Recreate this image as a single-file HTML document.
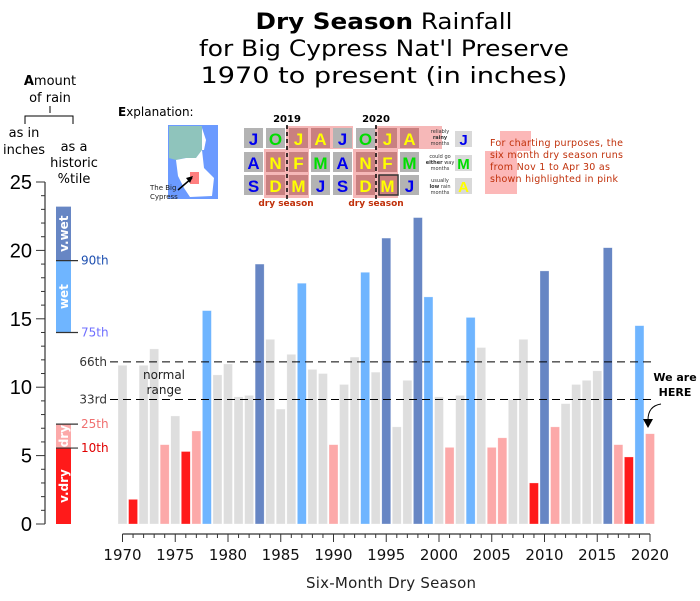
<!DOCTYPE html>
<html><head><meta charset="utf-8">
<style>
html,body{margin:0;padding:0;background:#fff;}
body{width:700px;height:601px;overflow:hidden;position:relative;font-family:"DejaVu Sans","Liberation Sans",sans-serif;}
svg{position:absolute;left:0;top:0;}
</style></head>
<body>
<svg id="chart" width="700" height="601" viewBox="0 0 700 601">
  <g font-size="22" text-anchor="middle" fill="#000">
    <text x="384" y="29" textLength="257" lengthAdjust="spacingAndGlyphs"><tspan font-weight="bold">Dry Season</tspan> Rainfall</text>
    <text x="384" y="56" textLength="370" lengthAdjust="spacingAndGlyphs">for Big Cypress Nat'l Preserve</text>
    <text x="384" y="83" textLength="367" lengthAdjust="spacingAndGlyphs">1970 to present (in inches)</text>
  </g>
  <g font-size="13" text-anchor="middle" fill="#000">
    <text x="50" y="85"><tspan font-weight="bold">A</tspan>mount</text>
    <text x="50" y="102">of rain</text>
    <path d="M50 106 V113 M25 124 V116 H73 V124" stroke="#000" fill="none"/>
    <text x="24" y="137">as in</text>
    <text x="24" y="154">inches</text>
    <text x="74" y="151">as a</text>
    <text x="74" y="167">historic</text>
    <text x="74" y="183">%tile</text>
  </g>
  <g id="explanation">
    <text x="118" y="116" font-size="12"><tspan font-weight="bold">E</tspan>xplanation:</text>
    <g>
      <rect x="168" y="125" width="50" height="74" fill="#6b9aff"/>
      <path d="M169 126 H202 V150 L196 158 H185 L176 160 L169 158 Z" fill="#8fc4bc"/>
      <path d="M176 160 L186 158 L196 158 L202 150 L204 168 L214 178 L212 196 L190 197 L184 188 L178 176 Z" fill="#fff"/>
      <path d="M202 128 L206 140 L204 150 L202 150 Z" fill="#fff"/>
      <rect x="190" y="172" width="9" height="12" fill="#ff7f7f"/>
      <path d="M178 190 L192 178" stroke="#000" stroke-width="1.5"/>
      <path d="M193 176 L186 178 L190 183 Z" fill="#000"/>
      <text x="150" y="190" font-size="7" fill="#222">The Big</text>
      <text x="150" y="199" font-size="7" fill="#222">Cypress</text>
    </g>
    <g font-family="Liberation Sans, sans-serif" font-weight="bold" font-size="17" text-anchor="middle">
      <rect x="286" y="126" width="67" height="23" fill="#f6b8b8"/>
      <rect x="264" y="149" width="45" height="49" fill="#f6b8b8"/>
      <rect x="286" y="149" width="23" height="49" fill="#f6b8b8"/>
      <rect x="375" y="126" width="67" height="23" fill="#f6b8b8"/>
      <rect x="353" y="149" width="45" height="49" fill="#f6b8b8"/>
      <rect x="375" y="149" width="23" height="49" fill="#f6b8b8"/>
      <g id="cells"></g>
      <text x="287" y="122" font-size="10" fill="#000" font-family="DejaVu Sans, sans-serif">2019</text>
      <text x="376" y="122" font-size="10" fill="#000" font-family="DejaVu Sans, sans-serif">2020</text>
      <path d="M287 125 V199 M376 125 V199" stroke="#000" stroke-width="1.5" stroke-dasharray="4,3"/>
      <rect x="379" y="175" width="19" height="20" fill="none" stroke="#333" stroke-width="1.5"/>
      <text x="286" y="206" font-size="9" fill="#c0300a" font-family="DejaVu Sans, sans-serif">dry season</text>
      <text x="376" y="206" font-size="9" fill="#c0300a" font-family="DejaVu Sans, sans-serif">dry season</text>
    </g>
    <g font-size="5" fill="#333" text-anchor="middle">
      <text x="440" y="133">reliably</text><text x="440" y="139" font-weight="bold">rainy</text><text x="440" y="145">months</text>
      <text x="440" y="158">could go</text><text x="440" y="164"><tspan font-weight="bold">either</tspan> way</text><text x="440" y="170">months</text>
      <text x="440" y="182">usually</text><text x="440" y="188"><tspan font-weight="bold">low</tspan> rain</text><text x="440" y="194">months</text>
      <rect x="455" y="131" width="17" height="16" fill="#d9d9d9"/>
      <text x="463.5" y="145" font-size="15" font-weight="bold" fill="#0000ee" font-family="Liberation Sans, sans-serif">J</text>
      <rect x="455" y="155" width="17" height="16" fill="#d9d9d9"/>
      <text x="463.5" y="169" font-size="15" font-weight="bold" fill="#00dd00" font-family="Liberation Sans, sans-serif">M</text>
      <rect x="455" y="178" width="17" height="16" fill="#d9d9d9"/>
      <text x="463.5" y="192" font-size="15" font-weight="bold" fill="#ffff00" font-family="Liberation Sans, sans-serif">A</text>
    </g>
    <g>
      <rect x="500" y="131" width="31" height="20" fill="#fcb8b8"/>
      <rect x="485" y="151" width="32" height="43" fill="#fcb8b8"/>
      <g font-size="9.5" fill="#c0300a">
        <text x="490" y="146" textLength="133">For charting purposes, the</text>
        <text x="490" y="158" textLength="133">six month dry season runs</text>
        <text x="490" y="170" textLength="120">from Nov 1 to Apr 30 as</text>
        <text x="490" y="182" textLength="128">shown highlighted in pink</text>
      </g>
    </g>
  </g>
  <g id="yaxis"></g>
  <g id="pct"></g>
  <g id="bars"></g>
  <g id="refs"></g>
  <g id="xaxis"></g>
  <text x="391" y="588" font-size="15" text-anchor="middle" fill="#222" textLength="170">Six-Month Dry Season</text>
  <g font-size="12" text-anchor="middle" fill="#222">
    <text x="164" y="379">normal</text>
    <text x="164" y="394">range</text>
  </g>
  <g font-size="11" font-weight="bold" text-anchor="middle" fill="#000">
    <text x="675" y="381">We are</text>
    <text x="675" y="396">HERE</text>
    <path d="M661 404 Q648 406 648 420" fill="none" stroke="#000" stroke-width="1"/>
    <path d="M643 419 L653 419 L648 428 Z" fill="#000"/>
  </g>
</svg>
<script>
const years = [];
for (let y = 1970; y <= 2020; y++) years.push(y);
const rainfall = [11.6,1.8,11.6,12.8,5.8,7.9,5.3,6.8,15.6,10.9,11.7,9.3,9.4,19.0,13.5,8.4,12.4,17.6,11.3,11.0,5.8,10.2,12.2,18.4,11.1,20.9,7.1,10.5,22.4,16.6,9.3,5.6,9.4,15.1,12.9,5.6,6.3,9.1,13.5,3.0,18.5,7.1,8.8,10.2,10.5,11.2,20.2,5.8,4.9,14.5,6.6];
const categories = ["n","vd","n","n","d","n","vd","d","w","n","n","n","n","vw","n","n","n","w","n","n","d","n","n","w","n","vw","n","n","vw","w","n","d","n","w","n","d","d","n","n","vd","vw","d","n","n","n","n","vw","d","vd","w","d"];
const yTicks = [0,5,10,15,20,25];
const xTicks = [1970,1975,1980,1985,1990,1995,2000,2005,2010,2015,2020];
const pctBands = [["v.dry",0,5.55],["dry",5.55,7.3],["wet",14.0,19.25],["v.wet",19.25,23.2]];
const pctMarks = [["10th",5.55],["25th",7.3],["75th",14.0],["90th",19.25]];
const refLines = [["66th",11.85],["33rd",9.1]];

const NS = "http://www.w3.org/2000/svg";
const colors = {n:"#dedede",vd:"#ff1a1a",d:"#fca9a9",w:"#6fb5ff",vw:"#6786c4"};
const pctColors = {"v.dry":"#ff1a1a","dry":"#fca9a9","wet":"#6fb5ff","v.wet":"#6786c4"};
const markColors = {"10th":"#e00000","25th":"#f07070","75th":"#6f6fff","90th":"#1d4fb0"};
const yS = v => 524 - v * 13.68;
const xS = yr => 122.5 + (yr - 1970) * 10.55;
function mk(tag, attrs, parent, txt) {
  const e = document.createElementNS(NS, tag);
  for (const k in attrs) e.setAttribute(k, attrs[k]);
  if (txt !== undefined) e.textContent = txt;
  parent.appendChild(e);
  return e;
}
const ya = document.getElementById('yaxis');
const yl = mk('line', {x1:45,x2:45,y1:yS(25),y2:yS(0),stroke:'#333','stroke-width':1.2}, ya);


for (let v = 0; v <= 25; v++) {
  const major = v % 5 === 0;
  const t = mk('line', {x1: major ? 36 : 41, x2:45, y1:yS(v), y2:yS(v), stroke:'#333'}, ya);
  
  
}
yTicks.forEach(v => {
  const t = mk('text', {x:32,y:yS(v)+7,'font-size':20,'text-anchor':'end',fill:'#000','font-family':'Liberation Sans, sans-serif'}, ya, String(v));
  
  
});
const pg = document.getElementById('pct');
pctBands.forEach(b => {
  const r = mk('rect', {x:56,width:15,y:yS(b[2]),height:yS(b[1])-yS(b[2]),fill:pctColors[b[0]]}, pg);
  
  
  const cy = (yS(b[1]) + yS(b[2])) / 2;
  const t = mk('text', {x:0,y:0,'font-size':12,'font-weight':'bold',fill:'#fff','text-anchor':'middle',transform:`translate(68 ${cy}) rotate(-90)`}, pg, b[0]);
  
  
});
pctMarks.forEach(m => {
  const l = mk('line', {x1:56,x2:78,y1:yS(m[1]),y2:yS(m[1]),stroke:'#333','stroke-width':1.2}, pg);
  
  
  const t = mk('text', {x:81,y:yS(m[1])+4,'font-size':12,fill:markColors[m[0]]}, pg, m[0]);
  
  
});
const bg = document.getElementById('bars');
years.forEach((yr, i) => {
  const r = mk('rect', {x:xS(yr)-4.5,width:9,y:yS(rainfall[i]),height:yS(0)-yS(rainfall[i]),fill:colors[categories[i]],stroke:'rgba(255,255,255,0.5)','stroke-width':0.6}, bg);
  
  
});
const rg = document.getElementById('refs');
refLines.forEach(r => {
  const l = mk('line', {x1:110,x2:652,y1:yS(r[1]),y2:yS(r[1]),stroke:'#000','stroke-width':1,'stroke-dasharray':'8,5'}, rg);
  
  
  const t = mk('text', {x:107,y:yS(r[1])+4,'font-size':12,fill:'#333','text-anchor':'end'}, rg, r[0]);
  
  
});
const xa = document.getElementById('xaxis');
const xl = mk('line', {x1:xS(1970),x2:xS(2020),y1:534,y2:534,stroke:'#333','stroke-width':1.2}, xa);


years.forEach(yr => {
  const major = yr % 5 === 0;
  const t = mk('line', {x1:xS(yr),x2:xS(yr),y1:534,y2: major ? 542 : 538,stroke:'#333'}, xa);
  
  
});
xTicks.forEach(yr => {
  const t = mk('text', {x:xS(yr),y:560,'font-size':15,'text-anchor':'middle',fill:'#111'}, xa, String(yr));
  
  
});
const cells = document.getElementById('cells');
const colX = [244,266,289,311,333,356,378,400];
const rowY = [128,152,175];
const grid = [
  [["J","#0000ee",0],["A","#0000ee",0],["S","#0000ee",0]],
  [["O","#00dd00",0],["N","#ffff00",1],["D","#ffff00",1]],
  [["J","#ffff00",1],["F","#ffff00",1],["M","#ffff00",1]],
  [["A","#ffff00",1],["M","#00dd00",0],["J","#0000ee",0]]
];
colX.forEach((x, c) => {
  grid[c % 4].forEach((cell, r) => {
    const rect = mk('rect', {x:x,y:rowY[r],width:19,height:20,fill: cell[2] ? '#c98080' : '#b3b3b3'}, cells);
    
    
    const t = mk('text', {x:x+9.5,y:rowY[r]+17,fill:cell[1]}, cells, cell[0]);
    
    
  });
});
</script>
</body></html>
